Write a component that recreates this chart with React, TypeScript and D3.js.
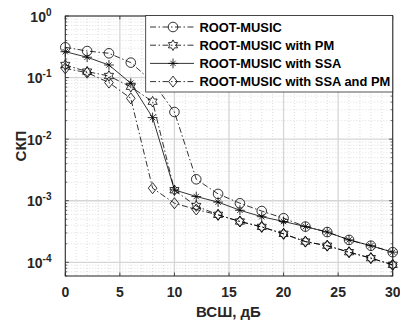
import React from "react";
import * as d3 from "d3";

const snr = [0, 2, 4, 6, 8, 10, 12, 14, 16, 18, 20, 22, 24, 26, 28, 30];
const rootMusic = [0.31, 0.27, 0.248, 0.175, 0.085, 0.0276, 0.00223, 0.00129, 0.00091, 0.00068, 0.00052, 0.00038, 0.00031, 0.000231, 0.000186, 0.000146];
const rootMusicPM = [0.16, 0.125, 0.106, 0.071, 0.0406, 0.00148, 0.00082, 0.00059, 0.00046, 0.000376, 0.00029, 0.000217, 0.000186, 0.000146, 0.000117, 0.000091];
const rootMusicSSA = [0.263, 0.214, 0.16, 0.081, 0.0224, 0.0015, 0.00117, 0.00095, 0.0007, 0.00055, 0.00046, 0.00038, 0.00031, 0.000231, 0.000186, 0.000146];
const rootMusicSSAPM = [0.141, 0.12, 0.083, 0.046, 0.0016, 0.00091, 0.00072, 0.00059, 0.00046, 0.000376, 0.00029, 0.000217, 0.000186, 0.000146, 0.000117, 0.000091];
const seriesNames = ["ROOT-MUSIC", "ROOT-MUSIC with PM", "ROOT-MUSIC with SSA", "ROOT-MUSIC with SSA and PM"];
const xTicks = [0, 5, 10, 15, 20, 25, 30];
const yTickExps = [0, -1, -2, -3, -4];
const xLabel = "ВСШ, дБ";
const yLabel = "СКП";

const W = 400, H = 322;
const L = 65.3, R = 392.7, T = 16, B = 276;
const font = "'Liberation Sans', Arial, sans-serif";
const dashDot = "6,2.5,1.5,2.5";

const x = d3.scaleLinear().domain([0, 30]).range([L, R]);
const y = d3.scaleLog().domain([Math.pow(10, -4 - (B - 262.3) / 61.6), 1]).range([B, T]);

type Kind = "circle" | "hex" | "star" | "diamond";

function hexPath(r: number) {
  const pts: [number, number][] = [];
  const ri = r * 0.577;
  for (let i = 0; i < 12; i++) {
    const a = (Math.PI / 6) * i - Math.PI / 2;
    const rr = i % 2 === 0 ? r : ri;
    pts.push([rr * Math.cos(a), rr * Math.sin(a)]);
  }
  return d3.line()(pts) + "Z";
}

function Marker({ kind, cx, cy }: { kind: Kind; cx: number; cy: number }) {
  const st = { fill: "none", stroke: "#000", strokeWidth: 0.8 };
  if (kind === "circle") return <circle cx={cx} cy={cy} r={4.8} {...st} />;
  if (kind === "diamond")
    return <path d={`M${cx},${cy - 5.5}L${cx + 4.3},${cy}L${cx},${cy + 5.5}L${cx - 4.3},${cy}Z`} {...st} />;
  if (kind === "hex") return <path transform={`translate(${cx},${cy})`} d={hexPath(5.3)} {...st} />;
  const r = 4.9;
  const arms = [0, 45, 90, 135].map((deg) => {
    const a = (deg * Math.PI) / 180;
    const k = deg % 90 === 0 ? 1 : 0.78;
    return `M${cx - r * k * Math.cos(a)},${cy - r * k * Math.sin(a)}L${cx + r * k * Math.cos(a)},${cy + r * k * Math.sin(a)}`;
  });
  return <path d={arms.join("")} {...st} />;
}

const series: { name: string; values: number[]; kind: Kind; dash?: string }[] = [
  { name: seriesNames[0], values: rootMusic, kind: "circle", dash: dashDot },
  { name: seriesNames[1], values: rootMusicPM, kind: "hex", dash: dashDot },
  { name: seriesNames[2], values: rootMusicSSA, kind: "star" },
  { name: seriesNames[3], values: rootMusicSSAPM, kind: "diamond", dash: dashDot },
];

export default function App() {
  const line = d3
    .line<[number, number]>()
    .x((d) => x(d[0]))
    .y((d) => y(d[1]));

  const minorX = d3.range(0, 31, 1).filter((v) => v % 5 !== 0);
  const minorY: number[] = [];
  for (let e = -5; e < 0; e++) for (let m = 2; m <= 9; m++) {
    const v = m * Math.pow(10, e);
    if (v >= y.domain()[0] && v <= 1) minorY.push(v);
  }

  const legX0 = 145.7, legY0 = 15.5, legX1 = 392.7, legY1 = 92;
  const rowY = (i: number) => 27 + i * 18.2;

  return (
    <svg width={W} height={H} style={{ position: "absolute", left: 0, top: 0, background: "#fff" }} fontFamily={font}>
      <rect x={0} y={0} width={W} height={H} fill="#fff" />
      {minorX.map((v) => (
        <line key={"mx" + v} x1={x(v)} x2={x(v)} y1={T} y2={B} stroke="#c8c8c8" strokeWidth={0.6} strokeDasharray="1,2" />
      ))}
      {minorY.map((v, i) => (
        <line key={"my" + i} x1={L} x2={R} y1={y(v)} y2={y(v)} stroke="#c8c8c8" strokeWidth={0.6} strokeDasharray="1,2" />
      ))}
      {xTicks.map((v) => (
        <line key={"gx" + v} x1={x(v)} x2={x(v)} y1={T} y2={B} stroke="#d6d6d6" strokeWidth={1.3} />
      ))}
      {yTickExps.map((e) => (
        <line key={"gy" + e} x1={L} x2={R} y1={y(Math.pow(10, e))} y2={y(Math.pow(10, e))} stroke="#d6d6d6" strokeWidth={1.3} />
      ))}
      {xTicks.map((v) => (
        <g key={"tx" + v}>
          <line x1={x(v)} x2={x(v)} y1={B} y2={B - 3.5} stroke="#262626" strokeWidth={0.8} />
          <line x1={x(v)} x2={x(v)} y1={T} y2={T + 3.5} stroke="#262626" strokeWidth={0.8} />
        </g>
      ))}
      {yTickExps.map((e) => (
        <g key={"ty" + e}>
          <line x1={L} x2={L + 3.5} y1={y(Math.pow(10, e))} y2={y(Math.pow(10, e))} stroke="#262626" strokeWidth={0.8} />
          <line x1={R} x2={R - 3.5} y1={y(Math.pow(10, e))} y2={y(Math.pow(10, e))} stroke="#262626" strokeWidth={0.8} />
        </g>
      ))}
      {minorY.map((v, i) => (
        <g key={"tmy" + i}>
          <line x1={L} x2={L + 2} y1={y(v)} y2={y(v)} stroke="#262626" strokeWidth={0.7} />
          <line x1={R} x2={R - 2} y1={y(v)} y2={y(v)} stroke="#262626" strokeWidth={0.7} />
        </g>
      ))}
      {series.map((s) => (
        <path
          key={"l" + s.name}
          d={line(snr.map((v, i) => [v, s.values[i]] as [number, number])) || ""}
          fill="none"
          stroke="#000"
          strokeWidth={0.8}
          strokeDasharray={s.dash}
        />
      ))}
      {series.map((s) =>
        snr.map((v, i) => <Marker key={s.name + i} kind={s.kind} cx={x(v)} cy={y(s.values[i])} />)
      )}
      <rect x={L} y={T} width={R - L} height={B - T} fill="none" stroke="#262626" strokeWidth={1} />
      {xTicks.map((v) => (
        <text key={"xl" + v} x={x(v)} y={297} textAnchor="middle" fontSize={14} fontWeight="bold" fill="#262626">
          {v}
        </text>
      ))}
      {yTickExps.map((e) => (
        <text key={"yl" + e} x={51.5} y={y(Math.pow(10, e)) + 5.5} textAnchor="end" fontSize={14} fontWeight="bold" fill="#262626">
          10
          <tspan fontSize={10} dy={-6}>{e}</tspan>
        </text>
      ))}
      <text x={228.5} y={317} textAnchor="middle" fontSize={15} fontWeight="bold" fill="#262626">
        {xLabel}
      </text>
      <text transform={`translate(26,146) rotate(-90)`} textAnchor="middle" fontSize={15} fontWeight="bold" fill="#262626">
        {yLabel}
      </text>
      <rect x={legX0} y={legY0} width={legX1 - legX0} height={legY1 - legY0} fill="#fff" stroke="#262626" strokeWidth={0.8} />
      {series.map((s, i) => (
        <g key={"lg" + i}>
          <line x1={150} x2={194} y1={rowY(i)} y2={rowY(i)} stroke="#000" strokeWidth={0.8} strokeDasharray={s.dash} />
          <Marker kind={s.kind} cx={173} cy={rowY(i)} />
          <text x={199.5} y={rowY(i) + 4.6} fontSize={12.9} fontWeight="bold" fill="#000">
            {s.name}
          </text>
        </g>
      ))}
    </svg>
  );
}
